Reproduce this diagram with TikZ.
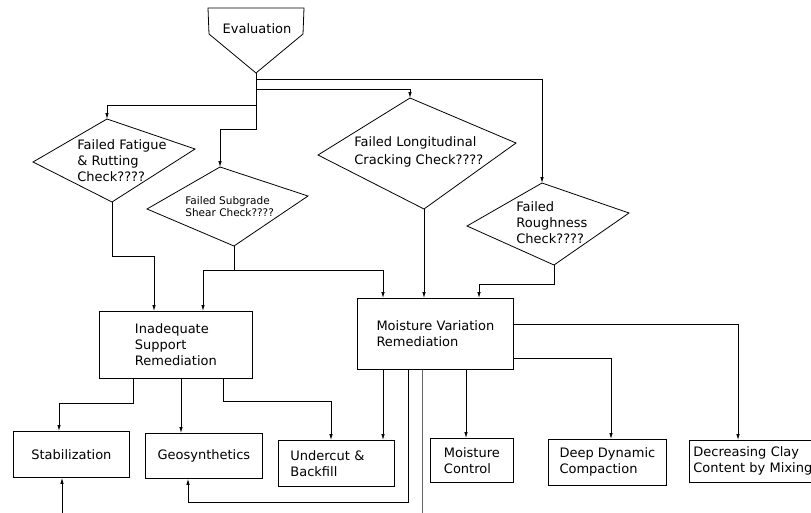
\documentclass[tikz,border=0pt]{standalone}
\usepackage{fontspec}
\setmainfont{DejaVu Sans}
\usetikzlibrary{arrows.meta}

\tikzset{
box/.style={draw, align=left, inner sep=0pt, anchor=north west},
lbl/.style={align=left, inner sep=0pt, anchor=west},
arr/.style={-{Latex[length=6pt,width=3.5pt]}}
}

\begin{document}
\begin{tikzpicture}[x=1pt,y=-1pt,line width=0.8pt,font=\fontsize{13}{16}\selectfont]
\useasboundingbox (0,0) rectangle (811,512);
\clip (0,0) rectangle (811,512);

% evaluation
\draw (208,8) -- (304,8) -- (303,34) -- (256,73) coordinate (ev-b) -- (209,34) -- cycle;
\node[inner sep=0pt] (ev) at (257,29) {Evaluation};

% checks
\foreach \n/\tx/\ty/\lx/\ly/\bx/\by/\rx/\ry in {fat/107/119/33/162/112/202/195/149, sub/220/167/147/209/234/246/308/196, long/410/98/318/155/424/209/516/143, rough/542/183/467/226/554/265/629/213}{
\draw (\tx,\ty) coordinate (\n-t) -- (\lx,\ly) -- (\bx,\by) coordinate (\n-b) -- (\rx,\ry) -- cycle;}

\node[lbl] (fat-txt) at (77,161) {Failed Fatigue\\\& Rutting\\Check????};
\node[lbl,font=\fontsize{10.5}{12}\selectfont] (sub-txt) at (185,207) {Failed Subgrade\\Shear Check????};
\node[lbl,font=\fontsize{13}{18}\selectfont] (long-txt) at (354,152) {Failed Longitudinal\\Cracking Check????};
\node[lbl] (rough-txt) at (516,223) {Failed\\Roughness\\Check????};

% remediations
\node[box,minimum width=153pt,minimum height=67pt] (isr) at (99,311) {Inadequate\\Support\\Remediation};
\node[box,minimum width=156pt,minimum height=71pt] (mvr) at (357,298) {Moisture Variation\\Remediation};

\node[box,minimum width=116pt,minimum height=46pt] (stab) at (13,431) {Stabilization};
\node[box,minimum width=117pt,minimum height=45pt] (geo) at (145,433) {Geosynthetics};
\node[box,text width=92pt,inner xsep=12pt,minimum height=46pt] (ub) at (278,440) {Undercut \&\\Backfill};
\node[box,minimum width=83pt,minimum height=44pt] (mc) at (430,438) {Moisture\\Control};
\node[box,minimum width=118pt,minimum height=46pt] (ddc) at (548,439) {Deep Dynamic\\Compaction};
\node[box,text width=130pt,inner xsep=4pt,minimum height=42pt] (clay) at (689,440) {Decreasing Clay\\Content by Mixing};

\coordinate (off1) at (422,530);
\coordinate (off2) at (62,530);

% from evaluation
\draw[arr] (ev-b) -- ++(0,6) -| (rough-t);
\draw[arr] (ev-b) -- ++(0,16) -| (long-t);
\draw[arr] (ev-b) -- ++(0,32) -| (fat-t);
\draw[arr] (ev-b) -- ++(0,56) -| (sub-t);

% checks to remediations
\draw[arr] (fat-b) -- ++(0,54) -| ([xshift=55]isr.north west);
\draw[arr] (sub-b) -- ++(0,24) -| ([xshift=104]isr.north west);
\draw[arr] (sub-b) -- ++(0,24) -| ([xshift=26]mvr.north west);
\draw[arr] (long-b) -- (long-b |- mvr.north);
\draw[arr] (rough-b) -- ++(0,19) -| ([xshift=122]mvr.north west);

% inadequate support
\draw[arr] ([xshift=34]isr.south west) -- ++(0,25) -| ([xshift=46]stab.north west);
\draw[arr] ([xshift=82]isr.south west) -- ([xshift=36]geo.north west);
\draw[arr] ([xshift=124]isr.south west) -- ++(0,23) -| ([xshift=53]ub.north west);

% moisture variation
\draw[arr] ([xshift=26]mvr.south west) -- ([xshift=105]ub.north west);
\draw[arr] ([xshift=51]mvr.south west) -- ++(0,133) -| ([xshift=43]geo.south west);
\draw[black!60] ([xshift=65]mvr.south west) -- (off1);
\draw[arr] ([xshift=109]mvr.south west) -- ([xshift=36]mc.north west);
\draw[arr] ([yshift=-26]mvr.north east) -| ([xshift=49]clay.north west);
\draw[arr] ([yshift=-60]mvr.north east) -| ([xshift=63]ddc.north west);

\draw[arr] (off2) -- ([xshift=49]stab.south west);
\end{tikzpicture}
\end{document}
